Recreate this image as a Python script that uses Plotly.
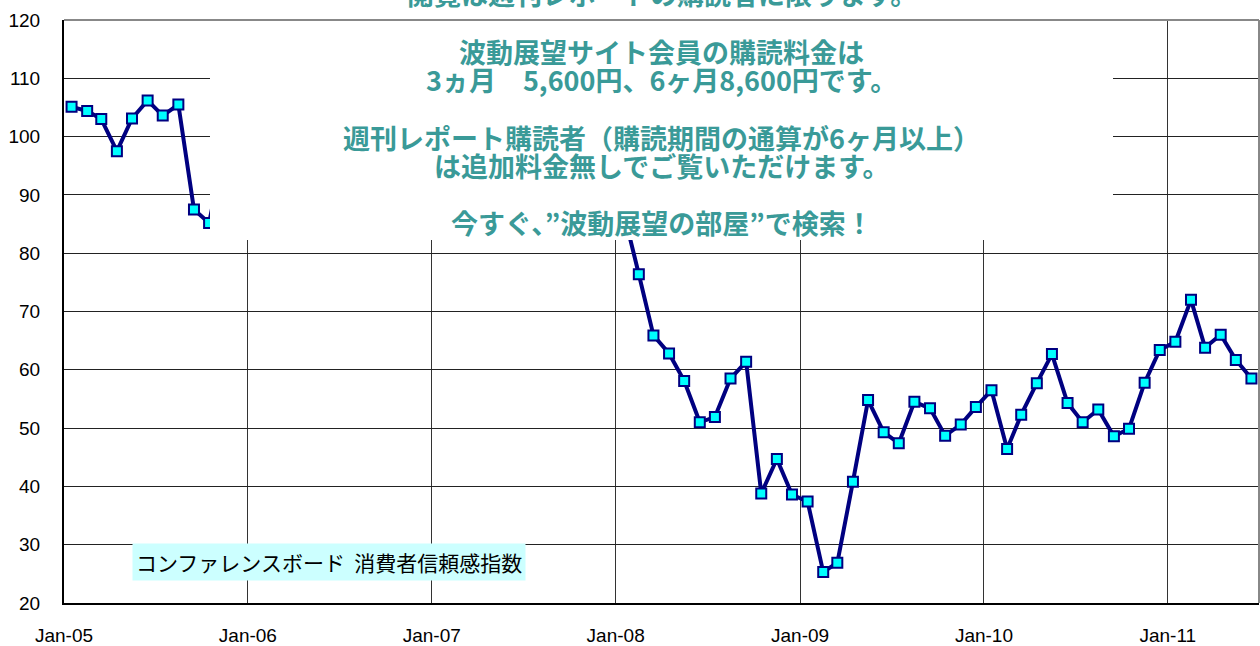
"""Conference Board consumer confidence index, monthly 2005-2011."""

import pandas as pd
import plotly.graph_objects as go

# monthly readings, Jan-05 .. Jun-11
VALUES_2005 = [105.1, 104.4, 103.0, 97.5, 103.1, 106.2, 103.6, 105.5, 87.5, 85.2, 98.3, 103.8]
VALUES_2006 = [106.8, 102.7, 107.5, 109.8, 104.7, 105.4, 107.0, 100.2, 105.9, 105.1, 105.3, 110.0]
VALUES_2007 = [110.2, 111.2, 108.2, 106.3, 108.5, 105.3, 111.9, 105.6, 99.5, 95.2, 87.8, 90.6]
VALUES_2008 = [87.3, 76.4, 65.9, 62.8, 58.1, 51.0, 51.9, 58.5, 61.4, 38.8, 44.7, 38.6]
VALUES_2009 = [37.4, 25.3, 26.9, 40.8, 54.8, 49.3, 47.4, 54.5, 53.4, 48.7, 50.6, 53.6]
VALUES_2010 = [56.5, 46.4, 52.3, 57.7, 62.7, 54.3, 51.0, 53.2, 48.6, 49.9, 57.8, 63.4]
VALUES_2011 = [64.8, 72.0, 63.8, 66.0, 61.7, 58.5]

values = (VALUES_2005 + VALUES_2006 + VALUES_2007 + VALUES_2008
          + VALUES_2009 + VALUES_2010 + VALUES_2011)
# each month sits in the middle of its slot, as in the source sheet
months = pd.date_range("2005-01-01", periods=len(values), freq="MS") + pd.Timedelta(days=15)

TICK_DATES = ["2005-01-01", "2006-01-01", "2007-01-01", "2008-01-01",
              "2009-01-01", "2010-01-01", "2011-01-01"]
TICK_LABELS = ["Jan-05", "Jan-06", "Jan-07", "Jan-08", "Jan-09", "Jan-10", "Jan-11"]

SERIES_LABEL = "コンファレンスボード  消費者信頼感指数"
NOTICE_LINES = [
    "閲覧は週刊レポートの購読者に限ります。",
    "",
    "波動展望サイト会員の購読料金は",
    "3ヵ月　5,600円、6ヶ月8,600円です。",
    "",
    "週刊レポート購読者（購読期間の通算が6ヶ月以上）",
    "は追加料金無しでご覧いただけます。",
    "",
    "今すぐ、”波動展望の部屋”で検索！",
]

W, H = 1260, 646
L, R, T, B = 64, 1, 20, 43
PLOT_H = H - T - B
PLOT_W = W - L - R


def py(pixel_y):
    """page pixel row -> paper y"""
    return 1 - (pixel_y - T) / PLOT_H


def px(pixel_x):
    return (pixel_x - L) / PLOT_W


fig = go.Figure()

fig.add_trace(
    go.Scatter(
        x=months,
        y=values,
        mode="lines+markers",
        line=dict(color="#000080", width=4),
        marker=dict(symbol="square", size=10, color="#00ffff",
                    line=dict(color="#000080", width=2)),
        showlegend=False,
        hoverinfo="x+y",
        cliponaxis=False,
    )
)

# white notice panel over the upper middle of the chart
fig.add_shape(
    type="rect", xref="paper", yref="paper",
    x0=px(210), x1=px(1113), y0=py(240), y1=py(-5),
    fillcolor="white", line=dict(width=0), layer="above",
)
# grey top / right frame
fig.add_shape(type="line", xref="paper", yref="paper", x0=0, x1=1, y0=1, y1=1,
              line=dict(color="#888888", width=2), layer="above")
fig.add_shape(type="line", xref="paper", yref="paper", x0=1, x1=1, y0=0, y1=1,
              line=dict(color="#888888", width=2), layer="above")

line_step = 28.6
for i, txt in enumerate(NOTICE_LINES):
    if not txt:
        continue
    fig.add_annotation(
        text=f"<b>{txt}</b>", xref="paper", yref="paper",
        x=0.5, y=py(-6 + i * line_step), xanchor="center", yanchor="middle",
        showarrow=False,
        font=dict(family="Noto Sans CJK JP", size=27, color="#3a9a98"),
    )

fig.add_annotation(
    text=SERIES_LABEL, xref="paper", yref="paper",
    x=px(132), y=py(562), xanchor="left", yanchor="middle",
    showarrow=False, bgcolor="#ccffff", borderpad=3,
    font=dict(family="Noto Sans CJK JP", size=21, color="black"),
)

fig.update_layout(
    width=W,
    height=H,
    margin=dict(l=L, r=R, t=T, b=B, autoexpand=False),
    paper_bgcolor="white",
    plot_bgcolor="white",
    font=dict(family="Liberation Sans, Arial", size=19, color="black"),
    xaxis=dict(
        type="date",
        range=["2005-01-01", "2011-07-01"],
        tickvals=TICK_DATES,
        ticktext=TICK_LABELS,
        showgrid=True,
        gridcolor="#333333",
        gridwidth=1,
        showline=True,
        linecolor="black",
        linewidth=2,
        ticks="",
        ticklabelstandoff=14,
        zeroline=False,
        automargin=False,
    ),
    yaxis=dict(
        range=[20, 120],
        dtick=10,
        showgrid=True,
        gridcolor="#222222",
        gridwidth=1,
        showline=True,
        linecolor="black",
        linewidth=2,
        ticks="",
        ticklabelstandoff=18,
        zeroline=False,
        automargin=False,
    ),
)

# drop the browser's default 8px page margin so the figure fills the window
fig.write_html(
    "out.html",
    config={"displayModeBar": False},
    post_script="document.body.style.margin = '0';",
)
